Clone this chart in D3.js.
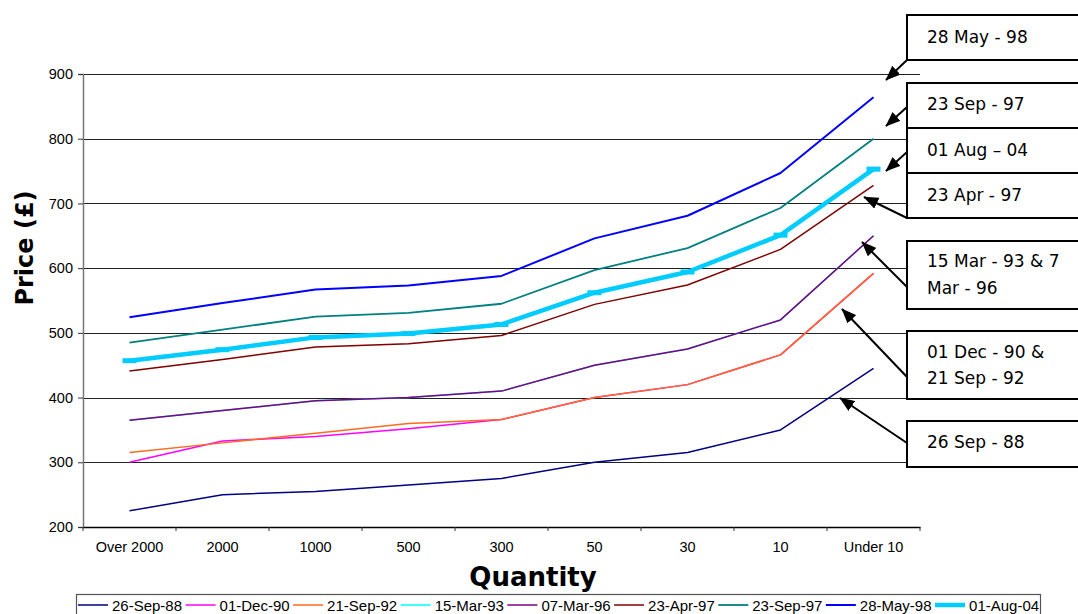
<!DOCTYPE html>
<html>
<head>
<meta charset="utf-8">
<script src="https://cdn.jsdelivr.net/npm/d3@7"></script>
<style>
  html, body { margin: 0; padding: 0; background: #fff; }
  svg { display: block; }
</style>
</head>
<body>
<svg id="chart" width="1078" height="614"></svg>
<script>
// Quantity bands along the x axis
const categories = ["Over 2000", "2000", "1000", "500", "300", "50", "30", "10", "Under 10"];

// Price (£) per quantity band, one array per price list date
const sep88 = [225, 250, 255, 265, 275, 300, 315, 350, 445];
const dec90 = [300, 333, 340, 352, 366, 400, 420, 466, 592];
const sep92 = [315, 330, 345, 360, 366, 400, 420, 466, 592];
const mar93 = [365, 380, 395, 400, 410, 450, 475, 520, 650];
const mar96 = [365, 380, 395, 400, 410, 450, 475, 520, 650];
const apr97 = [441, 459, 478, 483, 496, 544, 574, 629, 728];
const sep97 = [485, 505, 525, 531, 545, 597, 631, 693, 800];
const may98 = [524, 546, 567, 573, 588, 646, 681, 747, 864];
const aug04 = [457, 474, 493, 499, 513, 562, 594, 651, 753];

const seriesNames = ["26-Sep-88", "01-Dec-90", "21-Sep-92", "15-Mar-93", "07-Mar-96",
                     "23-Apr-97", "23-Sep-97", "28-May-98", "01-Aug-04"];
const seriesValues = [sep88, dec90, sep92, mar93, mar96, apr97, sep97, may98, aug04];

const yTicks = [200, 300, 400, 500, 600, 700, 800, 900];

// Callout labels, top to bottom
const calloutLabels = [
  ["28 May - 98"],
  ["23 Sep - 97"],
  ["01 Aug \u2013 04"],
  ["23 Apr - 97"],
  ["15 Mar - 93 & 7", "Mar - 96"],
  ["01 Dec - 90 &", "21 Sep - 92"],
  ["26 Sep - 88"]
];

// ---- styling ----
const seriesStyle = [
  { color: "#000080", width: 1.5 },
  { color: "#FF00FF", width: 1.5 },
  { color: "#FF6A1F", width: 1.5 },
  { color: "#00FFFF", width: 1.5 },
  { color: "#800080", width: 1.5 },
  { color: "#800000", width: 1.5 },
  { color: "#008080", width: 1.8 },
  { color: "#0000FF", width: 2 },
  { color: "#00CCFF", width: 4.5, marker: true }
];

const svg = d3.select("#chart");
const plot = { left: 83, right: 920, top: 74, bottom: 527 };

const x = d3.scaleBand().domain(categories).range([plot.left, plot.right]).padding(0);
const y = d3.scaleLinear().domain([200, 900]).range([plot.bottom, plot.top]);
const cx = c => x(c) + x.bandwidth() / 2;

// horizontal gridlines
svg.append("g")
  .selectAll("line")
  .data(yTicks.filter(v => v > 200))
  .join("line")
  .attr("x1", plot.left).attr("x2", plot.right)
  .attr("y1", d => Math.round(y(d)) + 0.5).attr("y2", d => Math.round(y(d)) + 0.5)
  .attr("stroke", "#222").attr("stroke-width", 1);

// y axis
const yAxis = svg.append("g")
  .attr("transform", `translate(${plot.left},0)`)
  .call(d3.axisLeft(y).tickValues(yTicks).tickSize(5).tickPadding(5).tickFormat(d3.format("d")));
yAxis.select(".domain").attr("stroke", "#777").attr("stroke-width", 1.5);
yAxis.selectAll(".tick line").attr("stroke", "#333");
yAxis.selectAll("text")
  .attr("font-family", "Liberation Sans, Arial, sans-serif")
  .attr("font-size", 14.5).attr("fill", "#000");

// x axis (labels centred in bands, tick marks at band boundaries)
const xAxis = svg.append("g")
  .attr("transform", `translate(0,${plot.bottom})`)
  .call(d3.axisBottom(x).tickSize(0).tickPadding(15).tickSizeOuter(0));
xAxis.select(".domain").attr("stroke", "#000").attr("stroke-width", 1.5);
xAxis.selectAll("text")
  .attr("font-family", "Liberation Sans, Arial, sans-serif")
  .attr("font-size", 14.5).attr("fill", "#000");
const boundaries = categories.map(c => x(c)).concat([plot.right]);
xAxis.append("g").selectAll("line")
  .data(boundaries)
  .join("line")
  .attr("x1", d => d).attr("x2", d => d)
  .attr("y1", 0).attr("y2", 4)
  .attr("stroke", "#333");

// series lines
const line = d3.line().x((d, i) => cx(categories[i])).y(d => y(d));
const linesG = svg.append("g");
seriesValues.forEach((vals, k) => {
  const st = seriesStyle[k];
  linesG.append("path")
    .datum(vals)
    .attr("d", line)
    .attr("fill", "none")
    .attr("stroke", st.color)
    .attr("stroke-width", st.width)
    .attr("stroke-linejoin", "round");
  if (st.marker) {
    linesG.append("g").selectAll("rect")
      .data(vals)
      .join("rect")
      .attr("x", (d, i) => cx(categories[i]) - 7)
      .attr("y", d => y(d) - 2.5)
      .attr("width", 14).attr("height", 5)
      .attr("fill", st.color);
  }
});

// axis titles
svg.append("text")
  .attr("x", 533).attr("y", 586)
  .attr("text-anchor", "middle")
  .attr("font-family", "DejaVu Sans, Verdana, sans-serif")
  .attr("font-weight", "bold").attr("font-size", 26)
  .text("Quantity");
svg.append("text")
  .attr("transform", "translate(33,248) rotate(-90)")
  .attr("text-anchor", "middle")
  .attr("font-family", "DejaVu Sans, Verdana, sans-serif")
  .attr("font-weight", "bold").attr("font-size", 24)
  .text("Price (\u00A3)");

// callouts with arrows
svg.append("defs").append("marker")
  .attr("id", "arrowhead")
  .attr("viewBox", "0 0 10 8")
  .attr("refX", 9.5).attr("refY", 4)
  .attr("markerWidth", 7.5).attr("markerHeight", 6)
  .attr("markerUnits", "strokeWidth")
  .attr("orient", "auto")
  .append("path").attr("d", "M0,0 L10,4 L0,8 Z").attr("fill", "#000");

const callouts = [
  { box: [15, 60],   text: [43],       arrow: [907, 60, 886, 80] },
  { box: [83, 128],  text: [110],      arrow: [907, 107, 886, 126] },
  { box: [128, 173], text: [156],      arrow: [907, 152, 886, 171] },
  { box: [173, 218], text: [201],      arrow: [907, 218, 864, 197] },
  { box: [241, 309], text: [267, 294], arrow: [907, 287, 862, 242] },
  { box: [331, 399], text: [358, 384], arrow: [907, 377, 842, 309] },
  { box: [421, 467], text: [448],      arrow: [907, 443, 840, 398] }
];
const boxLeft = 907;
const calloutG = svg.append("g");
callouts.forEach((c, i) => {
  calloutG.append("line")
    .attr("x1", c.arrow[0]).attr("y1", c.arrow[1])
    .attr("x2", c.arrow[2]).attr("y2", c.arrow[3])
    .attr("stroke", "#000").attr("stroke-width", 2)
    .attr("marker-end", "url(#arrowhead)");
});
callouts.forEach((c, i) => {
  calloutG.append("rect")
    .attr("x", boxLeft).attr("y", c.box[0])
    .attr("width", 200).attr("height", c.box[1] - c.box[0])
    .attr("fill", "#fff").attr("stroke", "#000").attr("stroke-width", 2);
  calloutLabels[i].forEach((t, j) => {
    calloutG.append("text")
      .attr("x", 927).attr("y", c.text[j])
      .attr("font-family", "DejaVu Sans, Verdana, sans-serif")
      .attr("font-size", 17).attr("fill", "#000")
      .text(t);
  });
});

// legend
const legend = svg.append("g");
legend.append("rect")
  .attr("x", 76.5).attr("y", 594.5).attr("width", 964).attr("height", 30)
  .attr("fill", "#fff").attr("stroke", "#555").attr("stroke-width", 1.2);
let lx = 78;
seriesNames.forEach((name, k) => {
  const st = seriesStyle[k];
  legend.append("line")
    .attr("x1", lx).attr("x2", lx + 30)
    .attr("y1", 605).attr("y2", 605)
    .attr("stroke", st.color).attr("stroke-width", st.width);
  const t = legend.append("text")
    .attr("x", lx + 34).attr("y", 611)
    .attr("font-family", "Liberation Sans, Arial, sans-serif")
    .attr("font-size", 15).attr("fill", "#000")
    .text(name);
  lx += 34 + t.node().getComputedTextLength() + 3.5;
});
</script>
</body>
</html>
